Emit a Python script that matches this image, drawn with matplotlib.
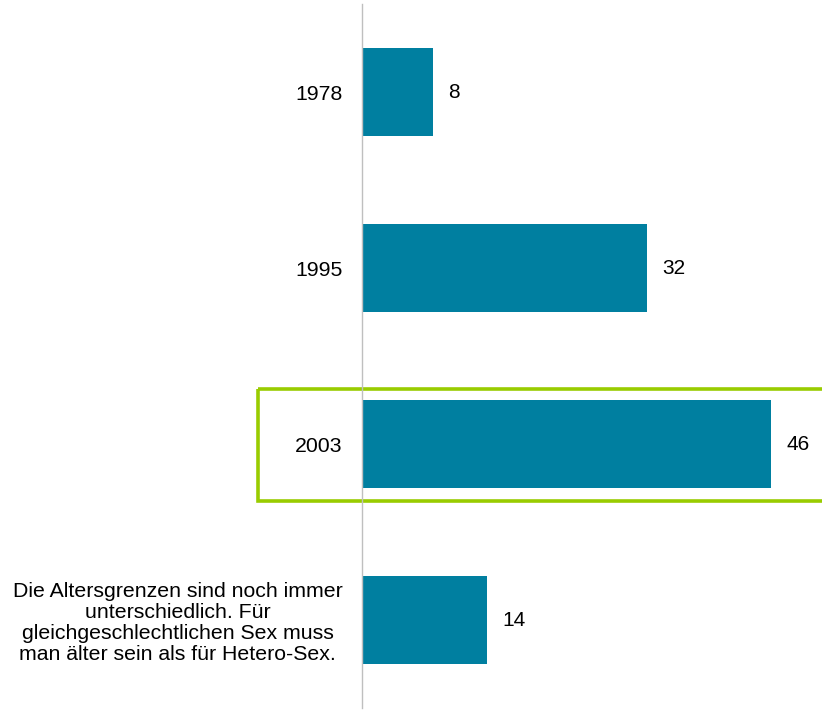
import matplotlib.pyplot as plt
from matplotlib.patches import Rectangle

plt.rcParams['font.family'] = ['Liberation Sans', 'DejaVu Sans']

categories = [
    "1978",
    "1995",
    "2003",
    "Die Altersgrenzen sind noch immer\nunterschiedlich. Für\ngleichgeschlechtlichen Sex muss\nman älter sein als für Hetero-Sex.",
]
values = [8, 32, 46, 14]
highlight = "2003"

bar_color = "#007FA0"
frame_color = "#99CC00"

fig = plt.figure(figsize=(8.22, 7.10), dpi=100)
ax = fig.add_axes([362 / 822, 2 / 710, 1 - 362 / 822, 704 / 710])

ypos = list(range(len(categories)))
ax.barh(ypos, values, height=0.5, color=bar_color, edgecolor="none")

for y, v in zip(ypos, values):
    ax.annotate(str(v), xy=(v, y), xytext=(11, 0), textcoords="offset points",
                ha="left", va="center", fontsize=15, color="#000000")

ax.set_xlim(0, 460 / 8.9)
ax.set_ylim(len(categories) - 0.5, -0.5)

ax.set_yticks(ypos)
ax.set_yticklabels(categories, fontsize=15.3, multialignment="center",
                   linespacing=1.15)
ax.tick_params(axis="y", length=0, pad=14)
ax.set_xticks([])

for side in ("top", "right", "bottom"):
    ax.spines[side].set_visible(False)
ax.spines["left"].set_color("#BFBFBF")
ax.spines["left"].set_linewidth(1.0)

# frame around the highlighted year
hi = categories.index(highlight)
rect = Rectangle((-104 / 8.9, hi - 0.3125), 70, 0.6375, fill=False,
                 edgecolor=frame_color, linewidth=2.6, clip_on=False,
                 transform=ax.transData)
ax.add_patch(rect)

fig.savefig("out.png", dpi=100)
